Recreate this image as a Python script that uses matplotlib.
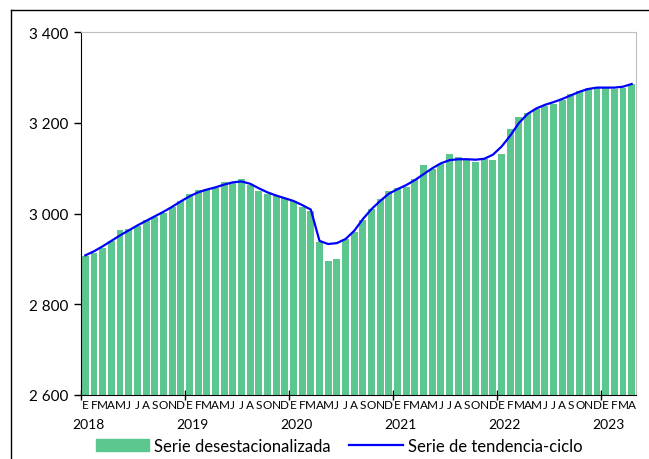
import numpy as np
import matplotlib.pyplot as plt
from matplotlib.lines import Line2D

plt.rcParams['font.family'] = ['Lato', 'DejaVu Sans']

meses = ['E', 'F', 'M', 'A', 'M', 'J', 'J', 'A', 'S', 'O', 'N', 'D']
anios = ['2018', '2019', '2020', '2021', '2022', '2023']

# serie desestacionalizada (ene 2018 - abr 2023)
desest = [2907, 2913, 2925, 2940, 2965, 2966, 2973, 2987, 2992, 3001, 3014, 3028,
          3043, 3053, 3054, 3056, 3070, 3070, 3076, 3063, 3050, 3043, 3038, 3034,
          3028, 3014, 3006, 2938, 2896, 2901, 2945, 2960, 2986, 3010, 3032, 3050,
          3056, 3058, 3076, 3108, 3098, 3110, 3132, 3124, 3119, 3115, 3120, 3118,
          3131, 3187, 3214, 3222, 3231, 3238, 3242, 3251, 3264, 3271, 3277, 3277,
          3277, 3275, 3278, 3286]

# serie de tendencia-ciclo
tendencia = [2908, 2917, 2928, 2940, 2952, 2963, 2974, 2984, 2994, 3004, 3015, 3027,
             3038, 3047, 3053, 3058, 3064, 3069, 3071, 3066, 3056, 3047, 3040, 3034,
             3028, 3019, 3009, 2940, 2933, 2935, 2944, 2962, 2988, 3010, 3028, 3044,
             3054, 3063, 3074, 3087, 3100, 3111, 3118, 3120, 3120, 3119, 3121, 3130,
             3148, 3172, 3200, 3220, 3232, 3240, 3246, 3253, 3261, 3269, 3275, 3278,
             3278, 3278, 3280, 3286]

n = len(desest)
x = np.arange(n)
etiquetas = [meses[i % 12] for i in range(n)]

fig = plt.figure(figsize=(6.49, 4.60), dpi=100)
ax = fig.add_axes([81/649, 1-396/460, (636-81)/649, (396-33.3)/460])

ax.bar(x, desest, width=0.8, color='#5CC68F', zorder=2)
ax.plot(x, tendencia, color='#0000FF', lw=1.6, zorder=3)

ax.set_xlim(-0.5, n-0.5)
ax.set_ylim(2600, 3400)
yt = np.arange(2600, 3401, 200)
ax.set_yticks(yt, labels=[f'{v:,}'.replace(',', ' ') for v in yt])
ax.tick_params(axis='y', direction='out', length=5, width=1, labelsize=11, pad=4)

ax.set_xticks(x, labels=etiquetas)
ax.tick_params(axis='x', which='major', length=0, labelsize=8.5, pad=3)
ax.set_xticks(np.arange(-0.5, n, 12), minor=True)
ax.tick_params(axis='x', which='minor', direction='inout', length=7, width=1)

for k, a in enumerate(anios):
    ax.text(12*k + 0.3, -0.08, a, transform=ax.get_xaxis_transform(),
            ha='center', va='center', fontsize=10)

for s in ['top', 'right']:
    ax.spines[s].set_color('#BFBFBF')
for s in ['left', 'bottom']:
    ax.spines[s].set_color('black')

# marco del grafico
fig.add_artist(Line2D([11/649, 11/649], [0, 1-11/460], color='black', lw=1))
fig.add_artist(Line2D([11/649, 1], [1-11/460, 1-11/460], color='black', lw=1))

h1 = plt.Rectangle((0, 0), 1, 1, color='#5CC68F')
h2 = Line2D([], [], color='#0000FF', lw=1.6)
fig.legend([h1, h2], ['Serie desestacionalizada', 'Serie de tendencia-ciclo'],
           loc='center', bbox_to_anchor=(339/649, 1-447/460), ncol=2,
           frameon=False, fontsize=12, handlelength=3.2, handleheight=0.7,
           columnspacing=1.1, handletextpad=0.3)

fig.savefig('out.png', dpi=100)
